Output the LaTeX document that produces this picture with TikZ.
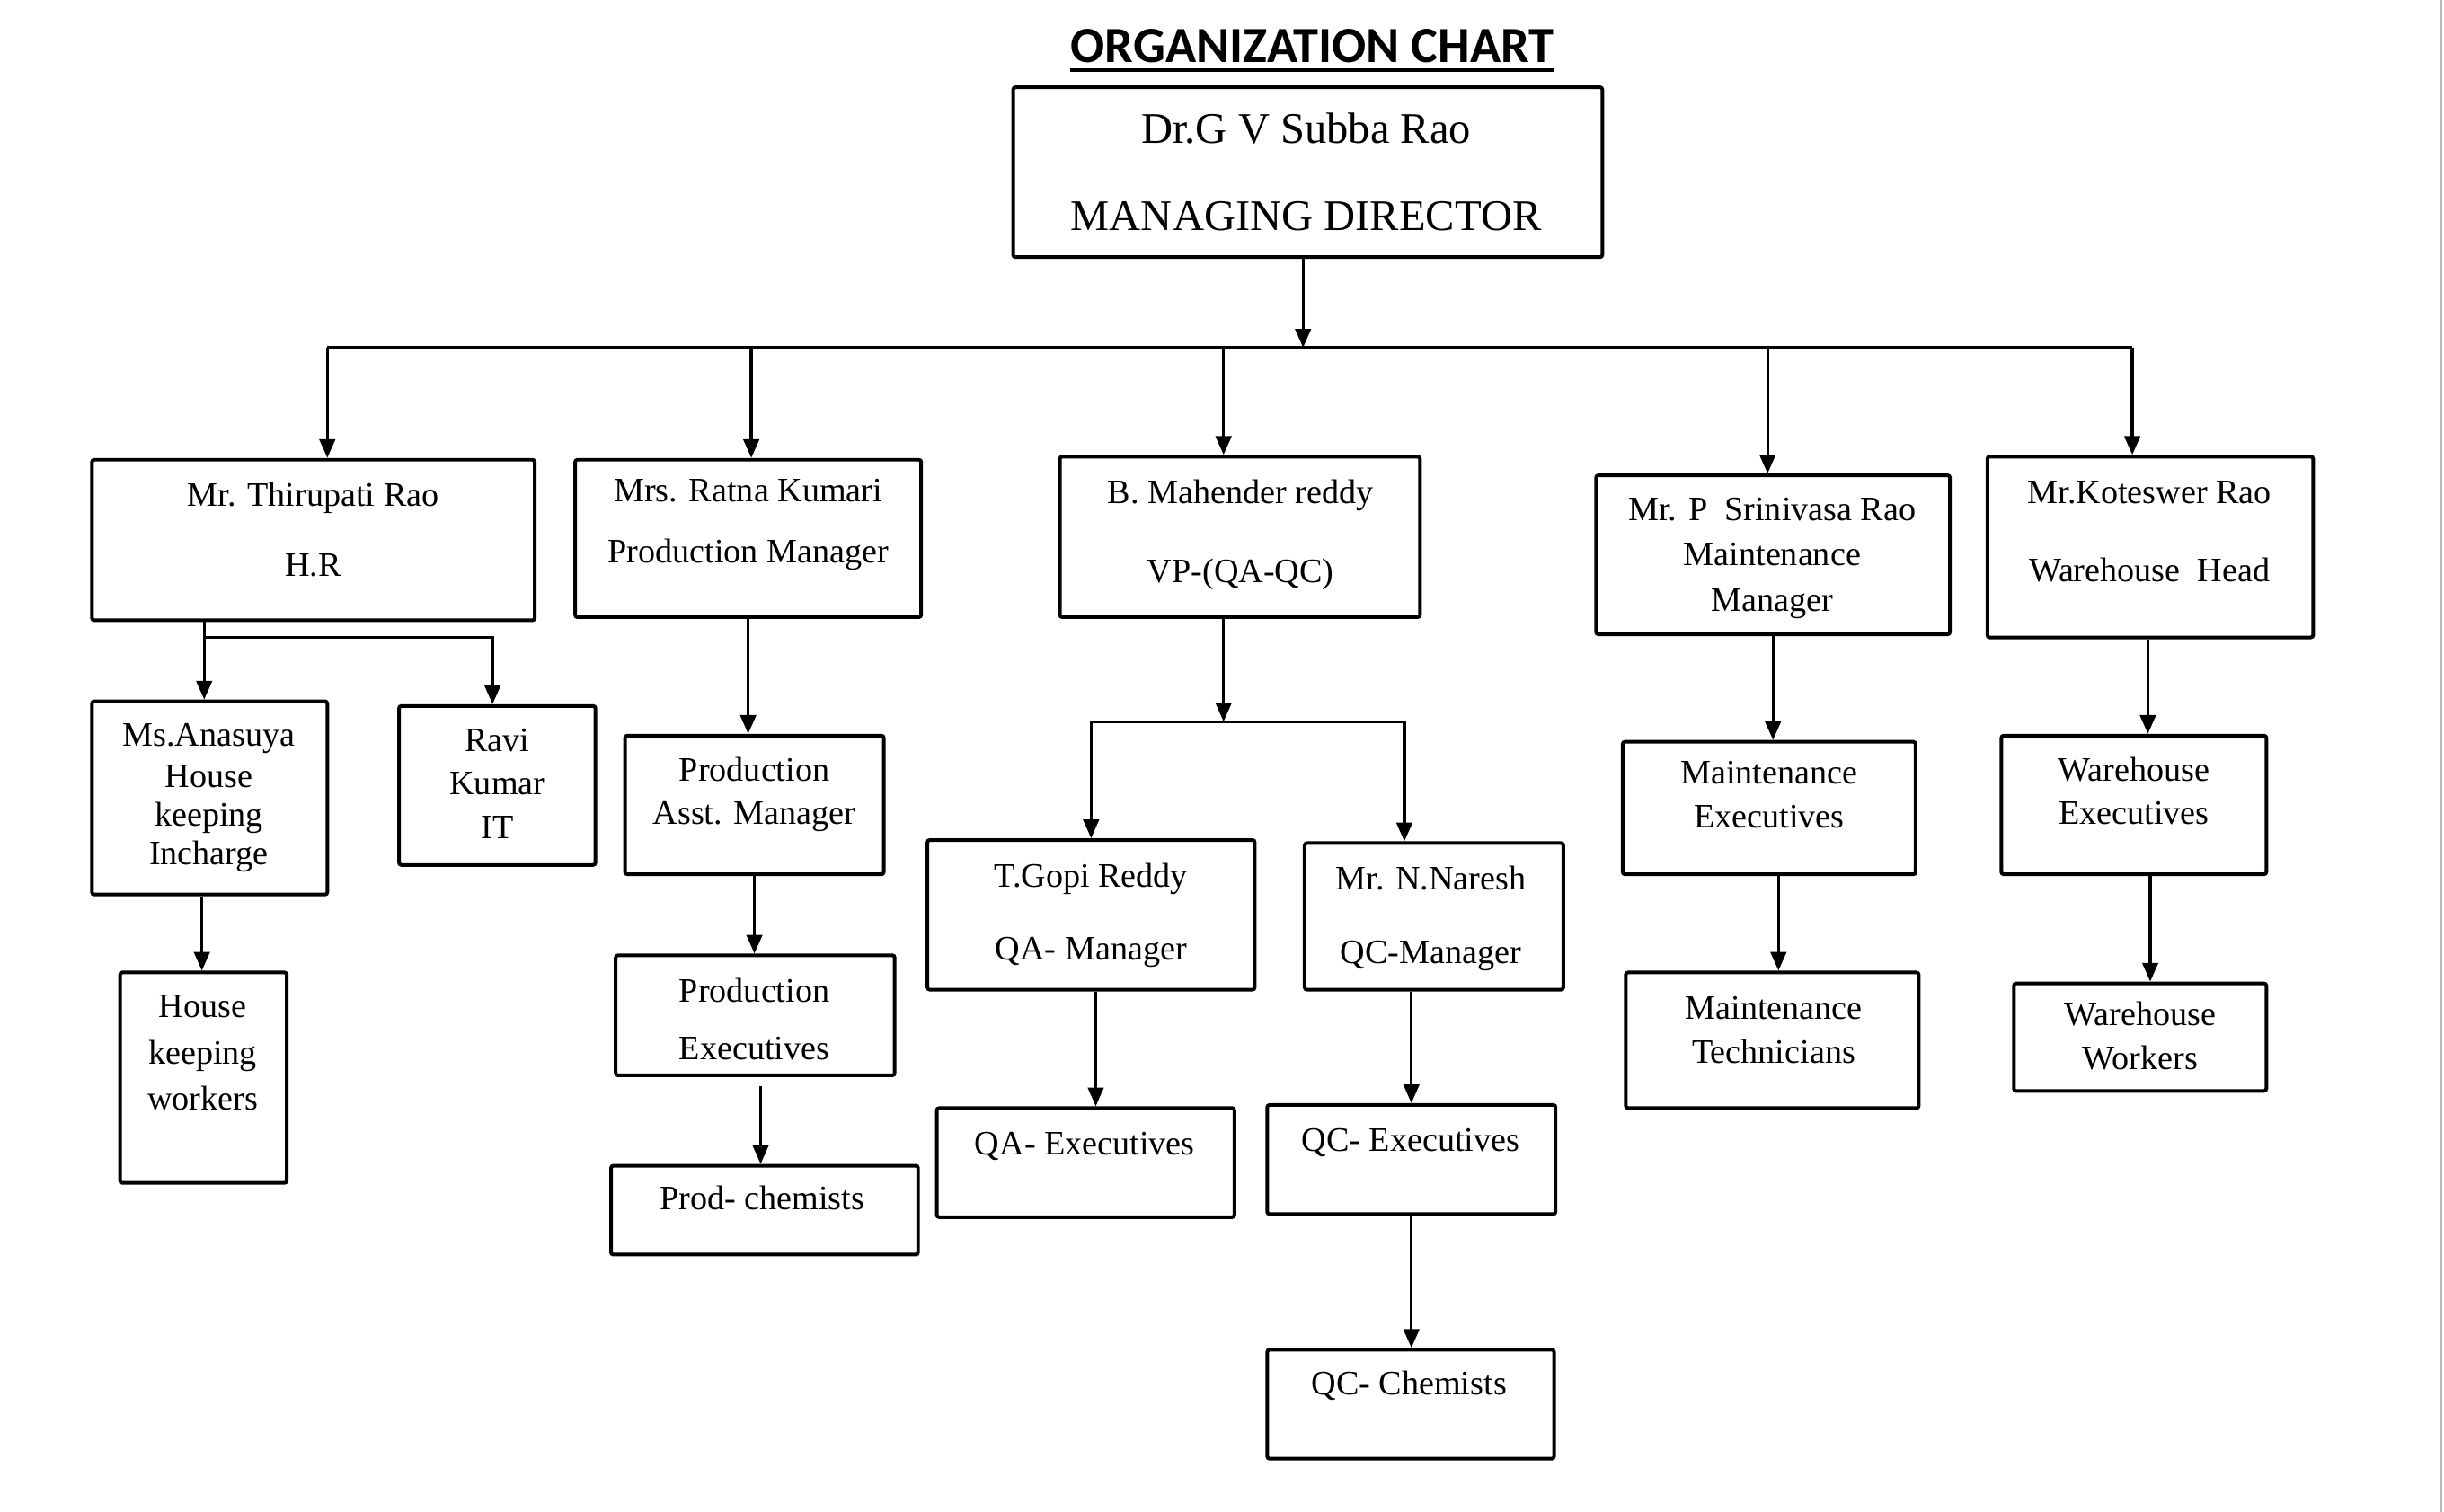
\documentclass[tikz,border=0pt]{standalone}
\usepackage{fontspec}
\setmainfont{Liberation Serif}
\newfontfamily\titlefont{Carlito}
\usetikzlibrary{arrows.meta,calc}
\tikzset{
  box/.style={draw=black, line width=2.3pt, rounded corners=1.5pt, fill=white, inner sep=0pt},
  txt/.style={anchor=base, inner sep=0pt, font=\fontsize{22}{26}\selectfont},
  mdtxt/.style={anchor=base, inner sep=0pt, font=\fontsize{28}{32}\selectfont},
  conn/.style={draw=black, line width=1.9pt},
  arr/.style={conn, -{Triangle[length=12pt,width=10pt]}}
}
\newcommand\tl[4]{\node[txt] (#1) at (#2,#3+7) {#4};}
\begin{document}
\begin{tikzpicture}[x=1pt,y=-1pt]
\useasboundingbox (0,0) rectangle (1568,970);
\fill[white] (0,0) rectangle (1568,970);
\draw[gray!55, line width=1.6pt] (1566,0) -- (1566,970);

% title
\node[anchor=base, inner sep=0pt, font=\titlefont\bfseries\fontsize{32.5}{36}\selectfont] (title) at (842,40) {ORGANIZATION CHART};
\draw[line width=2.2pt] ($(title.base west)+(0,5)$) -- ($(title.base east)+(0,5)$);

% boxes
\node[box, minimum width=378pt, minimum height=109pt] (md) at (839,110.5) {};
\node[box, minimum width=284pt, minimum height=103pt] (hr) at (201,346.5) {};
\node[box, minimum width=222pt, minimum height=101pt] (prodm) at (480,345.5) {};
\node[box, minimum width=231pt, minimum height=103pt] (vp) at (795.5,344.5) {};
\node[box, minimum width=227pt, minimum height=102pt] (maintm) at (1137.5,356) {};
\node[box, minimum width=209pt, minimum height=116pt] (wh) at (1379.5,351) {};
\node[box, minimum width=151pt, minimum height=124pt] (anas) at (134.5,512) {};
\node[box, minimum width=126pt, minimum height=102pt] (ravi) at (319,504) {};
\node[box, minimum width=107pt, minimum height=135pt] (hkw) at (130.5,691.5) {};
\node[box, minimum width=166pt, minimum height=89pt] (passt) at (484,516.5) {};
\node[box, minimum width=179pt, minimum height=77pt] (pexec) at (484.5,651.5) {};
\node[box, minimum width=197pt, minimum height=57pt] (pchem) at (490.5,776.5) {};
\node[box, minimum width=210pt, minimum height=96pt] (qam) at (700,587) {};
\node[box, minimum width=166pt, minimum height=94pt] (qcm) at (920,588) {};
\node[box, minimum width=191pt, minimum height=70pt] (qaexec) at (696.5,746) {};
\node[box, minimum width=185pt, minimum height=70pt] (qcexec) at (905.5,744) {};
\node[box, minimum width=184pt, minimum height=70pt] (qcchem) at (905,901) {};
\node[box, minimum width=188pt, minimum height=85pt] (mexec) at (1135,518.5) {};
\node[box, minimum width=188pt, minimum height=87pt] (mtech) at (1137,667.5) {};
\node[box, minimum width=170pt, minimum height=89pt] (wexec) at (1369,516.5) {};
\node[box, minimum width=162pt, minimum height=69pt] (wwork) at (1373,665.5) {};

% texts
\node[mdtxt] (md1) at (838,92) {Dr.G V Subba Rao};
\node[mdtxt] (md2) at (838,148) {MANAGING DIRECTOR};
\tl{hr1}{201}{318}{Mr. Thirupati Rao}
\tl{hr2}{201}{363}{H.R}
\tl{pm1}{480}{315}{Mrs. Ratna Kumari}
\tl{pm2}{480}{354}{Production Manager}
\tl{vp1}{796}{316}{B. Mahender reddy}
\tl{vp2}{796}{367}{VP-(QA-QC)}
\tl{mm1}{1137}{327}{Mr. P\ \ Srinivasa Rao}
\tl{mm2}{1137}{356}{Maintenance}
\tl{mm3}{1137}{385}{Manager}
\tl{wh1}{1379}{316}{Mr.Koteswer Rao}
\tl{wh2}{1379}{366}{Warehouse\ \ Head}
\tl{an1}{134}{472}{Ms.Anasuya}
\tl{an2}{134}{498}{House}
\tl{an3}{134}{523}{keeping}
\tl{an4}{134}{548}{Incharge}
\tl{rv1}{319}{475}{Ravi}
\tl{rv2}{319}{503}{Kumar}
\tl{rv3}{319}{531}{IT}
\tl{hk1}{130}{646}{House}
\tl{hk2}{130}{676}{keeping}
\tl{hk3}{130}{705}{workers}
\tl{pa1}{484}{494}{Production}
\tl{pa2}{484}{522}{Asst. Manager}
\tl{pe1}{484}{636}{Production}
\tl{pe2}{484}{673}{Executives}
\tl{pc1}{489}{769}{Prod- chemists}
\tl{qa1}{700}{562}{T.Gopi Reddy}
\tl{qa2}{700}{609}{QA- Manager}
\tl{qc1}{918}{564}{Mr. N.Naresh}
\tl{qc2}{918}{611}{QC-Manager}
\tl{qae1}{696}{734}{QA- Executives}
\tl{qce1}{905}{732}{QC- Executives}
\tl{qcc1}{904}{888}{QC- Chemists}
\tl{me1}{1135}{496}{Maintenance}
\tl{me2}{1135}{524}{Executives}
\tl{mt1}{1138}{647}{Maintenance}
\tl{mt2}{1138}{675}{Technicians}
\tl{we1}{1369}{494}{Warehouse}
\tl{we2}{1369}{522}{Executives}
\tl{ww1}{1373}{651}{Warehouse}
\tl{ww2}{1373}{679}{Workers}

% connector coordinates
\coordinate (bus1) at (210,223);
\coordinate (bus2) at (482,223);
\coordinate (bus3) at (785,223);
\coordinate (bus4) at (1134,223);
\coordinate (bus5) at (1368,223);
\coordinate (mdx) at (836,223);
\coordinate (hrj) at (131,409);
\coordinate (hrk) at (316,409);
\coordinate (qbus) at (785,463);
\coordinate (qbl) at (700,463);
\coordinate (qbr) at (901,463);

% top level
\draw[arr] (mdx |- md.south) -- (mdx);
\draw[conn] (bus1) -- (bus5);
\draw[arr] (bus1) -- (bus1 |- hr.north);
\draw[arr] (bus2) -- (bus2 |- prodm.north);
\draw[arr] (bus3) -- (bus3 |- vp.north);
\draw[arr] (bus4) -- (bus4 |- maintm.north);
\draw[arr] (bus5) -- (bus5 |- wh.north);

% HR
\draw[arr] (hrj |- hr.south) -- (hrj |- anas.north);
\draw[arr] (hrj) -- (hrk) -- (hrk |- ravi.north);
\draw[arr] ($(anas.south)+(-5,0)$) -- (hkw.north -| 129.5,0);

% production
\draw[arr] (prodm.south) -- (prodm.south |- passt.north);
\draw[arr] (passt.south) -- (passt.south |- pexec.north);
\draw[arr] ($(pexec.south)+(3.5,6)$) -- ($(pchem.north)+(-2.5,0)$);

% QA-QC
\draw[arr] (qbus |- vp.south) -- (qbus);
\draw[conn] (qbl) -- (qbr);
\draw[arr] (qbl) -- (qbl |- qam.north);
\draw[arr] (qbr) -- (qbr |- qcm.north);
\draw[arr] ($(qam.south)+(3,0)$) -- ($(qam.south |- qaexec.north)+(3,0)$);
\draw[arr] (qcexec.north |- qcm.south) -- (qcexec.north);
\draw[arr] (qcexec.south) -- (qcexec.south |- qcchem.north);

% maintenance
\draw[arr] (maintm.south) -- (maintm.south |- mexec.north);
\draw[arr] ($(mexec.south)+(6,0)$) -- ($(mexec.south |- mtech.north)+(6,0)$);

% warehouse
\draw[arr] ($(wh.south)+(-1.5,0)$) -- ($(wh.south |- wexec.north)+(-1.5,0)$);
\draw[arr] ($(wh.south |- wexec.south)$) -- ($(wh.south |- wwork.north)$);
\end{tikzpicture}
\end{document}
